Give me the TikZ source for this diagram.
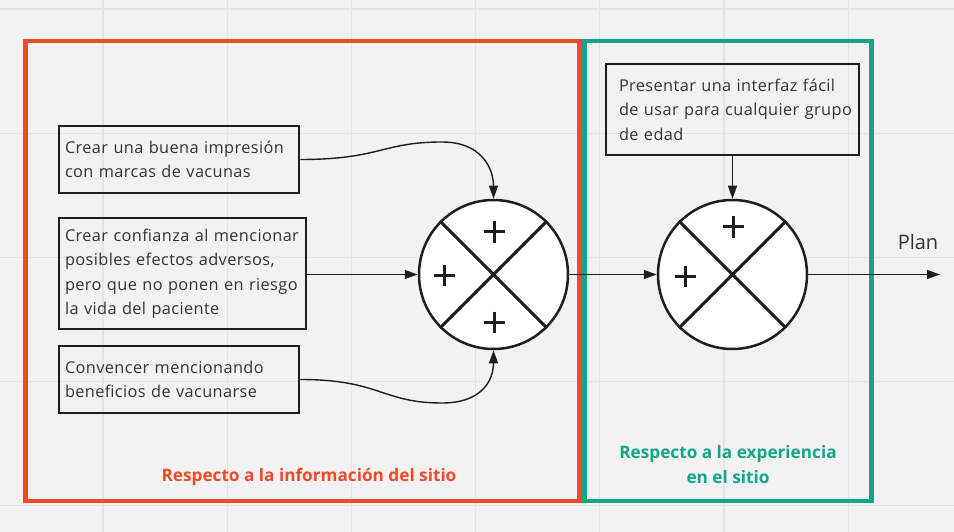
\documentclass[tikz,border=0pt]{standalone}
\usepackage{fontspec}
\setmainfont{Open Sans}
\newfontfamily\boxfont[LetterSpace=2.5]{Open Sans}
\usetikzlibrary{arrows.meta}
\definecolor{bg}{HTML}{F2F2F2}
\definecolor{gridc}{HTML}{E4E4E4}
\definecolor{redf}{HTML}{F04A29}
\definecolor{greenf}{HTML}{12A688}
\definecolor{ink}{HTML}{1E1E1E}
\definecolor{txt}{HTML}{333333}
\tikzset{
  textbox/.style={draw=ink, line width=2.5pt, align=left, inner ysep=0pt,
    font=\boxfont\fontsize{16.3}{24.5}\selectfont, text=txt},
  sumcirc/.style={circle, draw=ink, line width=2.5pt, fill=white, minimum size=149pt, inner sep=0pt},
  plussign/.style={draw=ink, line width=3pt},
  conn/.style={draw=ink, line width=1.4pt, -{Triangle[length=13pt,width=9pt]}},
  frame/.style={line width=4.5pt},
  framelabel/.style={font=\bfseries\fontsize{17.2}{25}\selectfont, align=center}
}
\begin{document}
\begin{tikzpicture}[x=1pt,y=-1pt]
\useasboundingbox (0,0) rectangle (954,532);
\fill[bg] (0,0) rectangle (954,532);
\foreach \gx in {103,227.2,351.4,475.6,599.8,724,848.2}
  \draw[gridc, line width=1.3pt] (\gx,0) -- (\gx,532);
\foreach \gy in {9,133.2,257.4,381.6,505.8}
  \draw[gridc, line width=1.3pt] (0,\gy) -- (954,\gy);

% frames
\draw[frame, redf] (25.5,41) rectangle (579.5,501);
\draw[frame, greenf] (584.5,41) rectangle (871.5,501);
\node[framelabel, text=redf] (lred) at (309,477) {Respecto a la información del sitio};
\node[framelabel, text=greenf] (lgreen) at (728,464.5) {Respecto a la experiencia\\en el sitio};

% boxes
\node[textbox, inner xsep=6pt, text width=228pt, minimum height=67pt] (b1) at (179,159.5)
  {Crear una buena impresión\\con marcas de vacunas};
\node[textbox, inner xsep=6pt, text width=235pt, minimum height=111pt] (b2) at (182.5,273.5)
  {Crear confianza al mencionar\\posibles efectos adversos,\\pero que no ponen en riesgo\\la vida del paciente};
\node[textbox, inner xsep=6pt, text width=228pt, minimum height=67pt] (b3) at (179,379.5)
  {Convencer mencionando\\beneficios de vacunarse};
\node[textbox, inner xsep=6.5pt, text width=240pt, minimum height=91pt] (b4) at (732.5,109.5)
  {\hspace*{6.5pt}Presentar una interfaz fácil\\\hspace*{6.5pt}de usar para cualquier grupo\\\hspace*{6.5pt}de edad};

% summing junctions
\node[sumcirc] (c1) at (493.5,274.5) {};
\draw[plussign] (c1.north west) -- (c1.south east) (c1.north east) -- (c1.south west);
\draw[plussign] (483.5,232) -- (504.5,232) (494,221.5) -- (494,242.5);
\draw[plussign] (433.5,275) -- (454.5,275) (444,264.5) -- (444,285.5);
\draw[plussign] (483.5,322) -- (504.5,322) (494,311.5) -- (494,332.5);

\node[sumcirc] (c2) at (732.5,274.5) {};
\draw[plussign] (c2.north west) -- (c2.south east) (c2.north east) -- (c2.south west);
\draw[plussign] (722.5,227) -- (743.5,227) (733,216.5) -- (733,237.5);
\draw[plussign] (674.5,276) -- (695.5,276) (685,265.5) -- (685,286.5);

% connectors
\draw[conn] (b1.east) .. controls +(80,0) and +(-60,0) .. (442,142) .. controls +(40,0) and +(0,-30) .. (c1.north);
\draw[conn] (b2.east |- c1.west) -- (c1.west);
\draw[conn] (b3.east) .. controls +(80,0) and +(-60,0) .. (442,403) .. controls +(40,0) and +(0,30) .. (c1.south);
\draw[conn] (c1.east) -- (c2.west);
\draw[conn] (b4.south -| c2.north) -- (c2.north);
\coordinate (planend) at (940,274.5);
\draw[conn] (c2.east) -- (planend);
\node[font=\fontsize{20}{24}\selectfont, text=txt, anchor=base] (plan) at (918,250) {Plan};
\end{tikzpicture}
\end{document}
